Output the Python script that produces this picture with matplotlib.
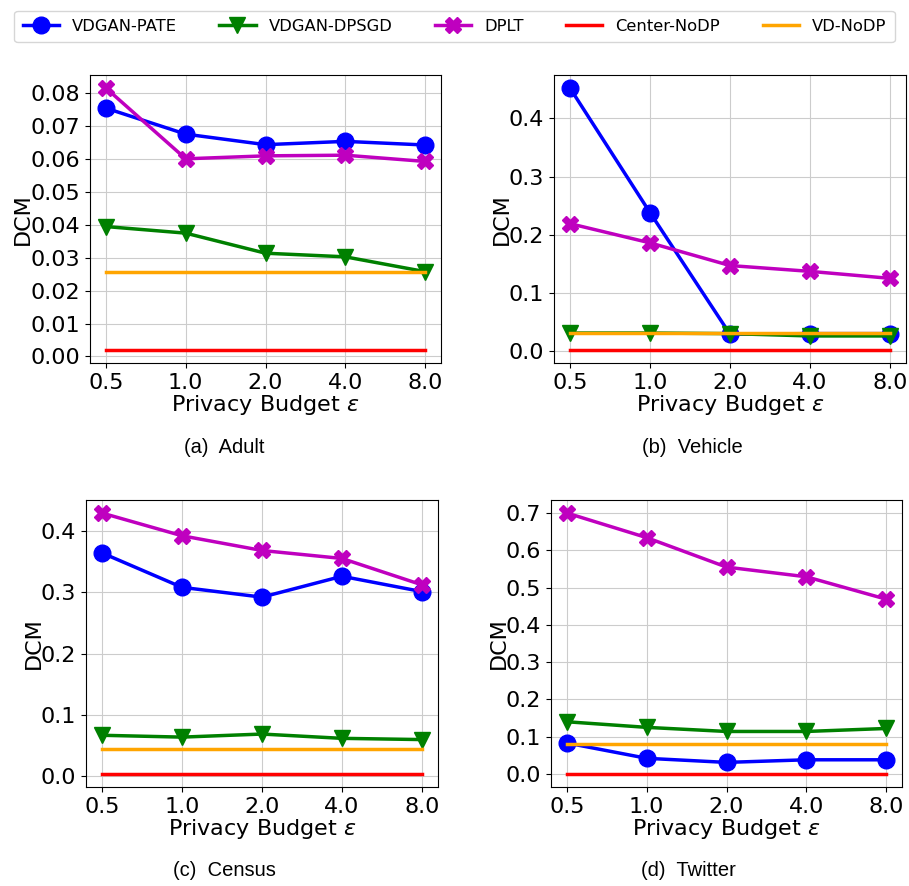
import numpy as np
import matplotlib
matplotlib.use("Agg")
import matplotlib.pyplot as plt
from matplotlib.ticker import MultipleLocator

# Data
eps_labels = ["0.5", "1.0", "2.0", "4.0", "8.0"]
methods = ["VDGAN-PATE", "VDGAN-DPSGD", "DPLT", "Center-NoDP", "VD-NoDP"]

adult_pate = [0.0755, 0.0676, 0.0644, 0.0654, 0.0643]
adult_dpsgd = [0.0395, 0.0375, 0.0314, 0.0303, 0.0258]
adult_dplt = [0.0816, 0.0601, 0.0610, 0.0612, 0.0593]
adult_center = 0.0020
adult_vd = 0.0256

vehicle_pate = [0.452, 0.238, 0.029, 0.030, 0.030]
vehicle_dpsgd = [0.031, 0.031, 0.030, 0.026, 0.026]
vehicle_dplt = [0.219, 0.186, 0.147, 0.137, 0.125]
vehicle_center = 0.002
vehicle_vd = 0.031

census_pate = [0.364, 0.308, 0.292, 0.326, 0.301]
census_dpsgd = [0.067, 0.064, 0.069, 0.062, 0.060]
census_dplt = [0.429, 0.392, 0.368, 0.355, 0.312]
census_center = 0.004
census_vd = 0.044

twitter_pate = [0.083, 0.042, 0.031, 0.038, 0.038]
twitter_dpsgd = [0.140, 0.125, 0.114, 0.114, 0.122]
twitter_dplt = [0.700, 0.634, 0.555, 0.529, 0.469]
twitter_center = 0.000
twitter_vd = 0.080

datasets = [
    ("(a)  Adult", adult_pate, adult_dpsgd, adult_dplt, adult_center, adult_vd, 0.01),
    ("(b)  Vehicle", vehicle_pate, vehicle_dpsgd, vehicle_dplt, vehicle_center, vehicle_vd, 0.1),
    ("(c)  Census", census_pate, census_dpsgd, census_dplt, census_center, census_vd, 0.1),
    ("(d)  Twitter", twitter_pate, twitter_dpsgd, twitter_dplt, twitter_center, twitter_vd, 0.1),
]

W, H = 909, 886
fig = plt.figure(figsize=(W / 100, H / 100), dpi=100)

# axes boxes in pixels: left, top, right, bottom
boxes = [(90, 75, 441, 363), (554, 75, 906, 363),
         (86, 500, 438, 787), (551, 500, 902, 787)]
captions_xy = [(224, 447), (692, 447), (224, 870), (688, 870)]

x = np.arange(len(eps_labels))
handles = None
for (cap, pate, dpsgd, dplt, center, vd, step), (l, t, r, b), (cx, cy) in zip(datasets, boxes, captions_xy):
    ax = fig.add_axes([l / W, 1 - b / H, (r - l) / W, (b - t) / H])
    h1, = ax.plot(x, pate, color="blue", marker="o", markersize=12, linewidth=2.5)
    h2, = ax.plot(x, dpsgd, color="green", marker="v", markersize=12, linewidth=2.5)
    h3, = ax.plot(x, dplt, color="m", marker="X", markersize=12, linewidth=2.5)
    h4, = ax.plot(x, [center] * len(x), color="red", linewidth=2.5)
    h5, = ax.plot(x, [vd] * len(x), color="orange", linewidth=2.5)
    handles = [h1, h2, h3, h4, h5]
    ax.set_xticks(x)
    ax.set_xticklabels(eps_labels)
    ax.yaxis.set_major_locator(MultipleLocator(step))
    ax.tick_params(labelsize=16)
    ax.set_xlabel("Privacy Budget $\\varepsilon$", fontsize=16, labelpad=0)
    ax.set_ylabel("DCM", fontsize=16, labelpad=-2)
    ax.grid(True, color="#cccccc")
    fig.text(cx / W, 1 - cy / H, cap, ha="center", va="center",
             fontsize=14.5, family="Liberation Sans")

fig.legend(handles, methods, loc="upper center", bbox_to_anchor=(0.5, 0.997),
           ncol=5, fontsize=11.8, handlelength=2.2, columnspacing=2.6,
           borderpad=0.5, frameon=True)

plt.savefig("out.png", dpi=100)
